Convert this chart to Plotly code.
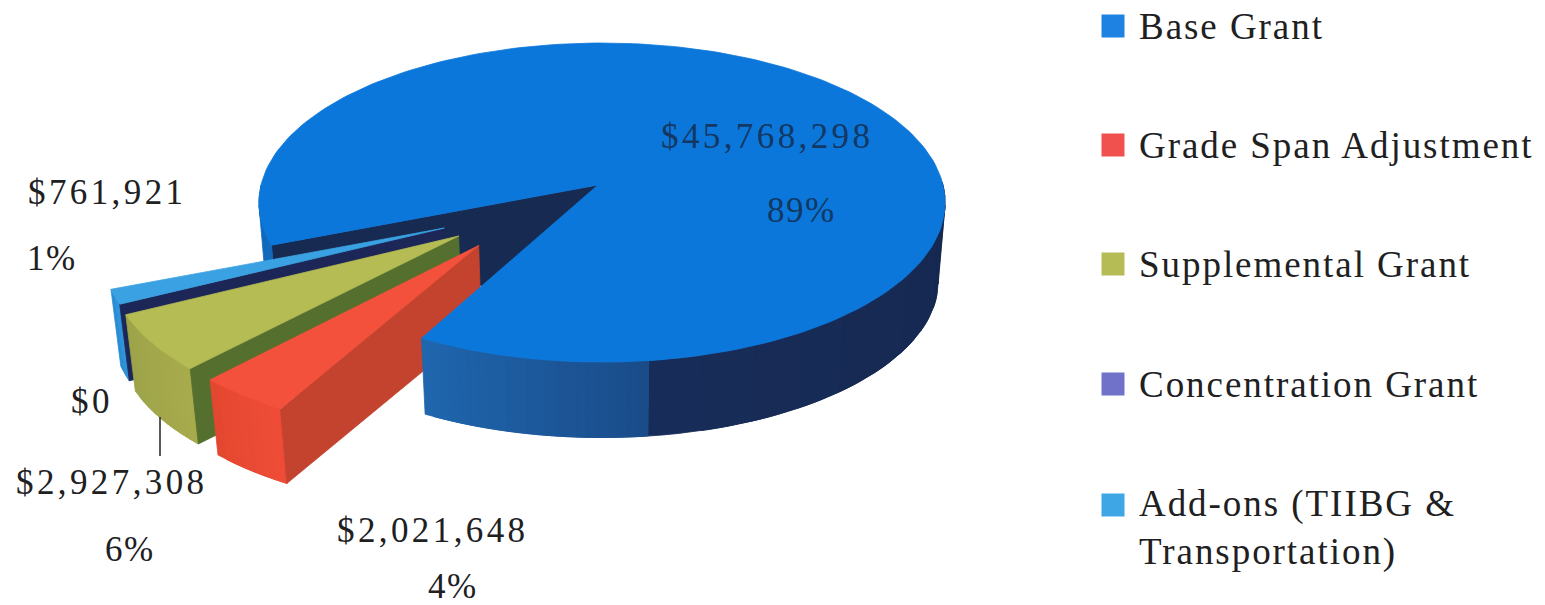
import numpy as np
import plotly.graph_objects as go

# Funding sources and amounts
categories = ["Base Grant", "Grade Span Adjustment", "Supplemental Grant",
              "Concentration Grant", "Add-ons (TIIBG &<br>Transportation)"]
amounts = [45768298, 2021648, 2927308, 0, 761921]

# Colours: top face, outer wall (near, far), inner cut wall, legend swatch
top_colors = ["#0C77DA", "#F3513B", "#B6BC54", "#6F72C8", "#3AA2E2"]
outer_colors = [("#1F66AE", "#1A4C8A"), ("#EE4C37", "#E4472F"), ("#A7AB4C", "#9DA349"),
                ("#6F72C8", "#6F72C8"), ("#2E93D8", "#2A8CD2")]
inner_colors = ["#172A52", "#C4432F", "#55702E", "#3F4290", "#1C2758"]
swatch_colors = ["#1E82E2", "#F0504E", "#B5BC55", "#6F72C8", "#3FA6E6"]

# Where each slice has been pulled out to on the pie's plane, and its radius
explode = [(0, 0), (-0.347, -0.368), (-0.406, -0.3125), (-0.42, -0.29), (-0.449, -0.265)]
radius = [1.0, 0.98, 0.98, 0.98, 0.96]
base_apex = (-0.012, 0.0)

# Where the value and share labels sit
value_pos = [(767, 136), (433, 530), (112, 482), (92, 401), (107, 192)]
share_pos = [(801, 210), (453, 586), (130, 549), None, (52, 258)]
legend_y = [26, 145, 264, 384, 505]
label_y = [26, 145, 264, 384, 528]

# Projection of the tilted pie onto the page
CX, CY = 602, 185
RX, RY = 341, 157.6
PERSP = 0.11
DEPTH, BOTTOM_SCALE = 79, 0.98
START = 201.5
WALL_BREAK = 277
TEXT = "#20201f"
FONT = "Liberation Serif"


def project(u, v, bottom=False):
    u, v = np.asarray(u, float), np.asarray(v, float)
    w = 1 + PERSP * v
    s = BOTTOM_SCALE if bottom else 1.0
    return CX + RX * s * u / w, CY + (DEPTH if bottom else 0) - RY * s * v / w


def arc(a0, a1, off, r=1.0, n=None):
    n = n or max(2, int(abs(a1 - a0) / 1.5) + 1)
    t = np.radians(np.linspace(a0, a1, n))
    return r * np.cos(t) + off[0], r * np.sin(t) + off[1]


def poly(fig, x, y, color):
    fig.add_trace(go.Scatter(
        x=np.append(x, x[0]), y=np.append(y, y[0]), mode="lines", fill="toself",
        fillcolor=color, line=dict(color=color, width=0.8),
        hoverinfo="skip", showlegend=False))


def mix(c0, c1, f):
    a = [int(c0[i:i + 2], 16) for i in (1, 3, 5)]
    b = [int(c1[i:i + 2], 16) for i in (1, 3, 5)]
    return "#%02x%02x%02x" % tuple(round(p + (q - p) * f) for p, q in zip(a, b))


def outer_wall(fig, a0, a1, off, c0, c1, r=1.0, step=2):
    """Curved outside wall, in overlapping strips so that its shade can change."""
    n = max(1, int(abs(a1 - a0) / step))
    edges = np.linspace(a0, a1, n + 1)
    for i in range(n):
        end = edges[min(i + 2, n)]
        u, v = arc(edges[i], end, off, r, 8)
        xt, yt = project(u, v)
        xb, yb = project(u, v, True)
        poly(fig, np.r_[xt, xb[::-1]], np.r_[yt, yb[::-1]], mix(c0, c1, i / max(1, n - 1)))


def cut_wall(fig, angle, off, color, r=1.0, apex=None):
    """Flat wall running from the slice's apex out to its rim."""
    apex = apex or off
    u, v = arc(angle, angle, off, r, 1)
    ox, oy = project(apex[0], apex[1])
    obx, oby = project(apex[0], apex[1], True)
    xt, yt = project(u, v)
    xb, yb = project(u, v, True)
    poly(fig, np.r_[ox, xt, xb, obx], np.r_[oy, yt, yb, oby], color)


def top_face(fig, a0, a1, off, color, r=1.0, apex=None):
    apex = apex or off
    u, v = arc(a0, a1, off, r)
    x, y = project(u, v)
    ox, oy = project(apex[0], apex[1])
    poly(fig, np.r_[ox, x], np.r_[oy, y], color)


# Slice angles follow the amounts, clockwise from the start angle
total = sum(amounts)
sweeps = [a / total * 360 for a in amounts]
spans, cur = [], START
for s in sweeps:
    spans.append((cur, cur - s))
    cur -= s

fig = go.Figure()

# Base grant: parts that lie behind the pulled-out slices
end_base = spans[0][1] % 360                       # near edge of the gap
cut_wall(fig, START, explode[0], inner_colors[0], apex=base_apex)
outer_wall(fig, 180, START, explode[0], "#0F6CC4", "#1268BA", step=6)

# Pulled-out slices, farthest first
for i in (4, 3, 2, 1):
    if amounts[i] == 0:
        continue
    a_low, a_high = spans[i][0] % 360, spans[i][1] % 360
    a_low, a_high = min(a_low, a_high), max(a_low, a_high)
    outer_wall(fig, a_low, a_high, explode[i], outer_colors[i][1], outer_colors[i][0], radius[i])
    cut_wall(fig, a_high, explode[i], inner_colors[i], radius[i])
    top_face(fig, a_low, a_high, explode[i], top_colors[i], radius[i])

# Base grant: front wall, dark on the right, lit on the left, then its top
outer_wall(fig, WALL_BREAK, 361, explode[0], "#172C58", "#152850", step=8)
outer_wall(fig, end_base, WALL_BREAK, explode[0], outer_colors[0][0], outer_colors[0][1], step=1.5)
top_face(fig, end_base, end_base + sweeps[0], explode[0], top_colors[0], apex=base_apex)


def spaced(text, px):
    return f'<span style="letter-spacing:{px}px">{text}</span>'


annotations = []
for i, amount in enumerate(amounts):
    color = "#123863" if i == 0 else TEXT
    vx, vy = value_pos[i]
    annotations.append(dict(x=vx, y=vy, text=spaced(f"${amount:,}", 3.4), showarrow=False,
                            xanchor="center", yanchor="middle",
                            font=dict(family=FONT, size=35, color=color)))
    if share_pos[i] is not None:
        sx, sy = share_pos[i]
        annotations.append(dict(x=sx, y=sy, text=spaced(f"{round(amount / total * 100)}%", 1.5),
                                showarrow=False, xanchor="center", yanchor="middle",
                                font=dict(family=FONT, size=35, color=color)))

# Legend: a swatch and a label per funding source
fig.add_trace(go.Scatter(
    x=[1113] * len(categories), y=legend_y, mode="markers",
    marker=dict(symbol="square", size=23, color=swatch_colors),
    hoverinfo="skip", showlegend=False))
for name, y in zip(categories, label_y):
    annotations.append(dict(x=1137, y=y, text=spaced(name, 1.95), showarrow=False,
                            xanchor="left", yanchor="middle", align="left",
                            font=dict(family=FONT, size=37, color=TEXT)))

fig.update_layout(
    width=1545, height=605, autosize=False,
    margin=dict(l=0, r=0, t=0, b=0),
    paper_bgcolor="white", plot_bgcolor="white",
    showlegend=False,
    xaxis=dict(range=[0, 1545], visible=False, fixedrange=True),
    yaxis=dict(range=[605, 0], visible=False, fixedrange=True),
    annotations=annotations,
    # Leader from the supplemental slice to its label
    shapes=[dict(type="line", x0=160, x1=160, y0=417, y1=456,
                 line=dict(color="#222222", width=1.5))],
)

fig.write_html("out.html", config=dict(displayModeBar=False))
